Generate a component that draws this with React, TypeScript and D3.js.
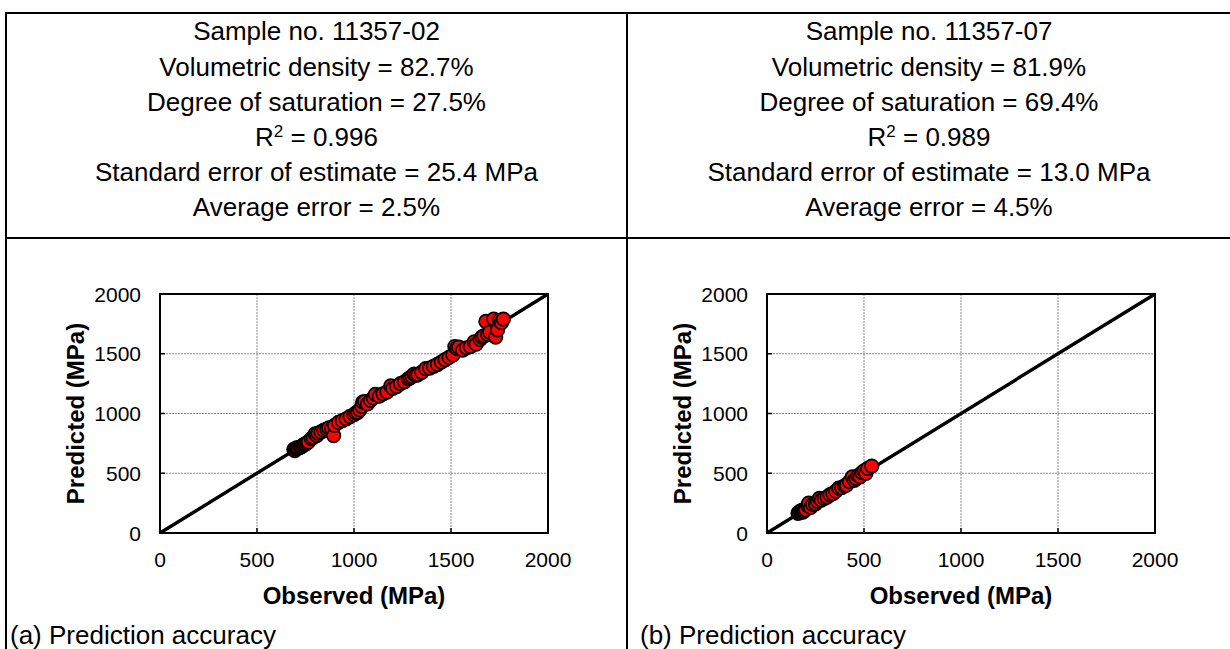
import React, { useEffect, useRef } from 'react';
import * as d3 from 'd3';

// header stats for the two samples
const sampleIds = ['11357-02', '11357-07'];
const densities = ['82.7%', '81.9%'];
const saturations = ['27.5%', '69.4%'];
const rSquared = ['0.996', '0.989'];
const stdErrors = ['25.4 MPa', '13.0 MPa'];
const avgErrors = ['2.5%', '4.5%'];
const captions = ['(a) Prediction accuracy', '(b) Prediction accuracy'];

const ticks = [0, 500, 1000, 1500, 2000];

// sample 11357-02
const obsA = [690, 695, 700, 705, 710, 720, 728, 735, 742, 750, 758, 765, 780, 790, 800, 808, 815, 830, 845, 860,
  870, 885, 895, 900, 920, 940, 960, 980, 1000, 1010, 1020, 1030, 1040, 1045, 1055, 1070, 1085, 1100, 1110, 1130,
  1150, 1170, 1190, 1200, 1220, 1240, 1260, 1280, 1290, 1300, 1310, 1320, 1330, 1350, 1370, 1390, 1410, 1430, 1450,
  1470, 1490, 1510, 1520, 1530, 1540, 1560, 1580, 1600, 1620, 1630, 1650, 1660, 1670, 1680, 1690, 1700, 1720, 1730,
  1740, 1750, 1760, 1770];
const predA = [700, 690, 705, 712, 712, 715, 722, 730, 740, 745, 755, 762, 790, 800, 830, 815, 835, 845, 860, 870,
  880, 875, 815, 900, 925, 940, 955, 975, 990, 1005, 1010, 1030, 1060, 1095, 1100, 1080, 1110, 1130, 1160, 1145,
  1165, 1180, 1230, 1210, 1225, 1250, 1265, 1290, 1300, 1310, 1330, 1320, 1325, 1345, 1375, 1380, 1395, 1410, 1430,
  1450, 1470, 1490, 1560, 1545, 1555, 1530, 1550, 1560, 1600, 1580, 1620, 1640, 1650, 1770, 1660, 1680, 1790, 1640,
  1700, 1780, 1760, 1790];

// sample 11357-07
const obsB = [160, 165, 170, 175, 180, 185, 190, 195, 200, 210, 215, 225, 235, 250, 260, 270, 280, 295, 310, 325,
  340, 355, 370, 385, 400, 410, 425, 440, 450, 460, 470, 480, 490, 500, 510, 520, 540];
const predB = [165, 170, 180, 175, 190, 175, 185, 200, 195, 230, 250, 215, 240, 245, 265, 290, 275, 290, 300, 320,
  330, 350, 375, 380, 395, 400, 430, 470, 440, 455, 480, 470, 505, 520, 500, 540, 560];

const width = 1230;
const height = 649;
const font = '"Liberation Sans", Arial, sans-serif';

const table = { left: 6, mid: 627, right: 1231, top: 13, sep: 238, bottom: 700 };
const plotTop = 294;
const plotBottom = 533;
const plotWidth = 388;
const plotLefts = [160, 767];
const cells = [[table.left, table.mid], [table.mid, table.right]];

const App = () => {
  const svgRef = useRef(null);

  useEffect(() => {
    const svg = d3.select(svgRef.current);
    svg.selectAll('*').remove();

    // table lines
    const lines = svg.append('g').attr('stroke', '#000').attr('stroke-width', 2);
    lines.append('rect')
      .attr('x', table.left).attr('y', table.top)
      .attr('width', table.right - table.left).attr('height', table.bottom - table.top)
      .attr('fill', 'none');
    lines.append('line').attr('x1', table.left).attr('x2', table.right).attr('y1', table.sep).attr('y2', table.sep);
    lines.append('line').attr('x1', table.mid).attr('x2', table.mid).attr('y1', table.top).attr('y2', table.bottom);

    const panels = [
      { obs: obsA, pred: predA },
      { obs: obsB, pred: predB },
    ];

    panels.forEach((p, i) => {
      const [c0, c1] = cells[i];
      const cx = (c0 + c1) / 2;

      const header = svg.append('g')
        .attr('font-family', font).attr('font-size', 26).attr('text-anchor', 'middle').attr('fill', '#000');
      const rows = [
        `Sample no. ${sampleIds[i]}`,
        `Volumetric density = ${densities[i]}`,
        `Degree of saturation = ${saturations[i]}`,
        null,
        `Standard error of estimate = ${stdErrors[i]}`,
        `Average error = ${avgErrors[i]}`,
      ];
      rows.forEach((r, k) => {
        const t = header.append('text').attr('x', cx).attr('y', 31 + k * 35.2).attr('dy', '0.36em');
        if (r === null) {
          t.append('tspan').text('R');
          t.append('tspan').attr('font-size', 17).attr('dy', '-0.55em').text('2');
          t.append('tspan').attr('dy', '0.36em').text(` = ${rSquared[i]}`);
        } else {
          t.text(r);
        }
      });

      const left = plotLefts[i];
      const x = d3.scaleLinear().domain([0, 2000]).range([left, left + plotWidth]);
      const y = d3.scaleLinear().domain([0, 2000]).range([plotBottom, plotTop]);

      const g = svg.append('g');

      // gridlines
      const inner = ticks.slice(1, -1);
      g.selectAll('.vgrid').data(inner).join('line')
        .attr('x1', d => x(d)).attr('x2', d => x(d))
        .attr('y1', plotTop).attr('y2', plotBottom)
        .attr('stroke', '#8c8c8c').attr('stroke-width', 1).attr('stroke-dasharray', '2,1');
      g.selectAll('.hgrid').data(inner).join('line')
        .attr('x1', left).attr('x2', left + plotWidth)
        .attr('y1', d => y(d)).attr('y2', d => y(d))
        .attr('stroke', '#8c8c8c').attr('stroke-width', 1).attr('stroke-dasharray', '2,1');

      // inward ticks
      g.selectAll('.yt').data(inner).join('line')
        .attr('x1', left).attr('x2', left + 5)
        .attr('y1', d => y(d)).attr('y2', d => y(d))
        .attr('stroke', '#000').attr('stroke-width', 1.5);
      g.selectAll('.xt').data(inner).join('line')
        .attr('x1', d => x(d)).attr('x2', d => x(d))
        .attr('y1', plotBottom).attr('y2', plotBottom - 5)
        .attr('stroke', '#000').attr('stroke-width', 1.5);

      // 1:1 line
      g.append('line')
        .attr('x1', x(0)).attr('y1', y(0)).attr('x2', x(2000)).attr('y2', y(2000))
        .attr('stroke', '#000').attr('stroke-width', 3.4);

      // points
      g.selectAll('circle').data(p.obs.map((o, k) => [o, p.pred[k]])).join('circle')
        .attr('cx', d => x(d[0])).attr('cy', d => y(d[1])).attr('r', 6.8)
        .attr('fill', '#ff0000').attr('stroke', '#000').attr('stroke-width', 1.7);

      // box
      g.append('rect')
        .attr('x', left).attr('y', plotTop)
        .attr('width', plotWidth).attr('height', plotBottom - plotTop)
        .attr('fill', 'none').attr('stroke', '#000').attr('stroke-width', 2);

      // tick labels
      const lab = svg.append('g').attr('font-family', font).attr('font-size', 21).attr('fill', '#000');
      lab.selectAll('.xl').data(ticks).join('text')
        .attr('x', d => x(d)).attr('y', 559).attr('dy', '0.36em')
        .attr('text-anchor', 'middle').text(d => d);
      lab.selectAll('.yl').data(ticks).join('text')
        .attr('x', left - 19).attr('y', d => y(d)).attr('dy', '0.36em')
        .attr('text-anchor', 'end').text(d => d);

      // axis titles
      svg.append('text')
        .attr('x', left + plotWidth / 2).attr('y', 595).attr('dy', '0.36em')
        .attr('text-anchor', 'middle').attr('font-family', font).attr('font-size', 24)
        .attr('font-weight', 'bold').text('Observed (MPa)');
      svg.append('text')
        .attr('transform', `translate(${left - 85},${(plotTop + plotBottom) / 2}) rotate(-90)`)
        .attr('dy', '0.36em')
        .attr('text-anchor', 'middle').attr('font-family', font).attr('font-size', 24)
        .attr('font-weight', 'bold').text('Predicted (MPa)');

      // caption
      svg.append('text')
        .attr('x', i === 0 ? 10 : 640).attr('y', 635).attr('dy', '0.36em')
        .attr('font-family', font).attr('font-size', 26).text(captions[i]);
    });
  }, []);

  return (
    <svg ref={svgRef} width={width} height={height}
      style={{ position: 'absolute', left: 0, top: 0, background: '#fff' }} />
  );
};

export default App;
